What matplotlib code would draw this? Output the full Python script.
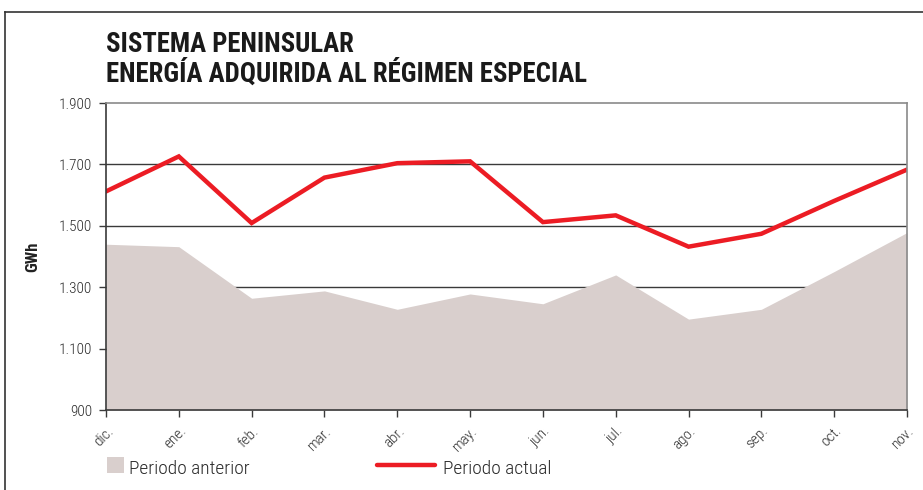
import matplotlib
matplotlib.use("Agg")
import matplotlib.pyplot as plt
from matplotlib.lines import Line2D
from matplotlib.patches import Rectangle

months = ["dic.", "ene.", "feb.", "mar.", "abr.", "may.",
          "jun.", "jul.", "ago.", "sep.", "oct.", "nov."]
periodo_anterior = [1440, 1432, 1264, 1288, 1228, 1278,
                    1246, 1340, 1196, 1228, 1351, 1478]
periodo_actual = [1612, 1726, 1509, 1657, 1704, 1710,
                  1512, 1534, 1432, 1474, 1581, 1683]
y_ticks = [900, 1100, 1300, 1500, 1700, 1900]
y_tick_labels = ["900", "1.100", "1.300", "1.500", "1.700", "1.900"]

plt.rcParams["font.family"] = ["Roboto Condensed", "DejaVu Sans"]

fill_color = "#d9cfcd"
red = "#ec1c24"
dark = "#3a3a3a"
text_col = "#2a2a2a"

fig = plt.figure(figsize=(9.23, 4.90), dpi=100)
ax = fig.add_axes([106 / 923, 80 / 490, 801 / 923, 307 / 490])

x = list(range(len(months)))
ax.fill_between(x, 900, periodo_anterior, color=fill_color, lw=0, zorder=2)
ax.plot(x, periodo_actual, color=red, lw=3.2, zorder=3, solid_joinstyle="miter")

# gridlines sit under the grey area
for v in y_ticks[1:-1]:
    ax.axhline(v, color=dark, lw=1.0, zorder=1)

ax.set_xlim(0, len(months) - 1)
ax.set_ylim(900, 1900)
ax.set_yticks(y_ticks)
ax.set_yticklabels(y_tick_labels, fontsize=11, color=text_col, fontweight="light")
ax.set_xticks(x)
ax.set_xticklabels(months, rotation=45, ha="right", va="top",
                   rotation_mode="anchor", fontsize=11, color=text_col,
                   fontweight="light")
ax.tick_params(axis="both", direction="out", length=5, width=1, color=dark)
ax.tick_params(axis="x", pad=5)
ax.tick_params(axis="y", pad=5)

for side in ["left", "bottom"]:
    ax.spines[side].set_color(dark)
    ax.spines[side].set_linewidth(1.2)
for side in ["top", "right"]:
    ax.spines[side].set_color("#8a8a8a")
    ax.spines[side].set_linewidth(1.2)
for s in ax.spines.values():
    s.set_zorder(4)

fig.text(33 / 923, 1 - 257 / 490, "GWh", fontsize=12, fontweight="bold",
         color="#222222", rotation=90, ha="center", va="center")

# title
fig.text(106 / 923, 1 - 52 / 490, "SISTEMA PENINSULAR", fontsize=19.3,
         fontweight="bold", color="#1a1a1a", ha="left", va="baseline")
fig.text(106 / 923, 1 - 82 / 490, "ENERGÍA ADQUIRIDA AL RÉGIMEN ESPECIAL", fontsize=19.3,
         fontweight="bold", color="#1a1a1a", ha="left", va="baseline")

# legend
fig.add_artist(Rectangle((107 / 923, 1 - 473 / 490), 17 / 923, 16 / 490,
                         transform=fig.transFigure, color=fill_color, lw=0))
fig.text(129 / 923, 1 - 474 / 490, "Periodo anterior", fontsize=14,
         fontweight="light", color=text_col, ha="left", va="baseline")
fig.add_artist(Line2D([377 / 923, 435 / 923], [1 - 465 / 490, 1 - 465 / 490],
                      transform=fig.transFigure, color=red, lw=3.2,
                      solid_capstyle="round"))
fig.text(443 / 923, 1 - 474 / 490, "Periodo actual", fontsize=14,
         fontweight="light", color=text_col, ha="left", va="baseline")

# outer frame
fig.add_artist(Line2D([5 / 923, 1.0], [1 - 12 / 490, 1 - 12 / 490],
                      transform=fig.transFigure, color="#333333", lw=1.2))
fig.add_artist(Line2D([5 / 923, 5 / 923], [0, 1 - 12 / 490],
                      transform=fig.transFigure, color="#333333", lw=1.2))

fig.savefig("out.png", dpi=100)
